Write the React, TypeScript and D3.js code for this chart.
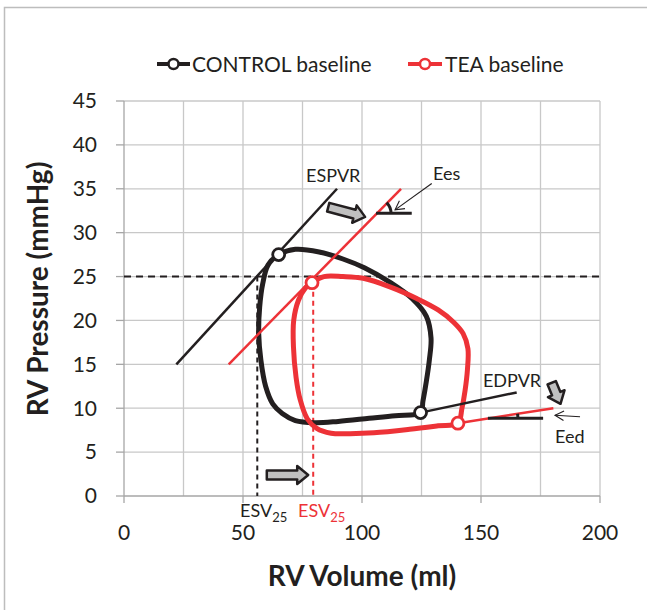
import React from "react";
import * as d3 from "d3";

// ---- data ----
const xTicks = [0, 50, 100, 150, 200];
const yTicks = [0, 5, 10, 15, 20, 25, 30, 35, 40, 45];
const xGrid = [25, 50, 75, 100, 125, 150, 175, 200];
const yGrid = [5, 10, 15, 20, 25, 30, 35, 40, 45];

const controlLoop: [number, number][] = [
  [65, 27.5], [72, 28.1], [82, 27.8], [92, 27.0], [101, 26.0], [112, 24.3], [121, 22.5],
  [127, 20.5], [129, 18], [128.3, 15.5], [127, 13], [125.6, 10.8], [124.6, 9.5],
  [114, 9.15], [103, 8.85], [90, 8.5], [80, 8.35], [72, 8.6], [66.5, 9.4], [62.5, 10.5],
  [59.5, 12.5], [57.5, 15.5], [56.6, 18.5], [57, 21.5], [58.3, 24.2], [60.5, 26.3],
];
const teaLoop: [number, number][] = [
  [79, 24.3], [84, 25.0], [92, 25.0], [100.5, 24.8], [112, 23.8], [123, 22.5], [132, 21.2],
  [138.5, 19.8], [142.5, 18.5], [144.5, 16.8], [144.3, 14.4], [143.3, 12], [142, 10],
  [140.3, 8.3], [132, 8.0], [120, 7.6], [105, 7.2], [95, 7.1], [87, 7.15], [81, 7.7],
  [77, 8.8], [74, 11], [72.3, 13.5], [71.2, 17], [71.3, 20], [73.3, 22.3], [76.1, 23.65],
];
const controlMarkers: [number, number][] = [[65, 27.5], [124.6, 9.5]];
const teaMarkers: [number, number][] = [[79, 24.3], [140.3, 8.3]];

const controlESPVR: [number, number][] = [[22, 15], [89.5, 35]];
const teaESPVR: [number, number][] = [[44, 15], [116.4, 35]];
const controlEDPVR: [number, number][] = [[124.6, 9.5], [165, 11.8]];
const teaEDPVR: [number, number][] = [[140.3, 8.3], [180.4, 10]];

const eesHoriz: [number, number][] = [[105.9, 32.2], [120.9, 32.2]];
const eedHoriz: [number, number][] = [[152.9, 8.85], [176.1, 8.85]];

const esvLevel = 25;
const controlESV = 56;
const teaESV = 79.5;

// block arrows: [tail, tip]
const blockArrows: [number, number][][] = [
  [[85.8, 32.9], [101.3, 31.8]],
  [[60, 2.39], [77.4, 2.39]],
  [[179.7, 12.9], [183.4, 10.5]],
];
// thin arrows: [tail, tip]
const thinArrows: [number, number][][] = [
  [[129.3, 35.6], [113.9, 32.6]],
  [[191.6, 9.03], [181.1, 9.2]],
];

const annotations = [
  { text: "ESPVR", v: 76.5, p: 35.8 },
  { text: "Ees", v: 129.8, p: 36 },
  { text: "EDPVR", v: 150.8, p: 12.4 },
  { text: "Eed", v: 181.1, p: 6.0 },
];

const legendItems = ["CONTROL baseline", "TEA baseline"];

// ---- style ----
const BLACK = "#231f20";
const RED = "#ed3237";
const GRID = "#c8c8c8";
const FONT = "Lato, 'Open Sans', sans-serif";

const W = 647;
const H = 610;

export default function App() {
  const x = d3.scaleLinear().domain([0, 200]).range([124, 600]);
  const y = d3.scaleLinear().domain([0, 45]).range([496, 101]);

  const loopGen = d3
    .line<[number, number]>()
    .x((d) => x(d[0]))
    .y((d) => y(d[1]))
    .curve(d3.curveCatmullRomClosed.alpha(0.5));
  const lineGen = d3
    .line<[number, number]>()
    .x((d) => x(d[0]))
    .y((d) => y(d[1]));

  const blockArrowPath = (a: [number, number], b: [number, number]) => {
    const x1 = x(a[0]), y1 = y(a[1]), x2 = x(b[0]), y2 = y(b[1]);
    const L = Math.hypot(x2 - x1, y2 - y1);
    const ang = Math.atan2(y2 - y1, x2 - x1);
    const bw = 4.5, hw = 9, hl = 11;
    const pts: [number, number][] = [
      [0, -bw], [L - hl, -bw], [L - hl, -hw], [L, 0], [L - hl, hw], [L - hl, bw], [0, bw],
    ];
    const c = Math.cos(ang), s = Math.sin(ang);
    return (
      "M" +
      pts.map(([u, w]) => `${x1 + u * c - w * s},${y1 + u * s + w * c}`).join("L") +
      "Z"
    );
  };

  const thinArrow = (a: [number, number], b: [number, number], i: number) => {
    const x1 = x(a[0]), y1 = y(a[1]), x2 = x(b[0]), y2 = y(b[1]);
    const ang = Math.atan2(y2 - y1, x2 - x1);
    const hl = 10, spread = 0.5;
    const p1 = [x2 - hl * Math.cos(ang - spread), y2 - hl * Math.sin(ang - spread)];
    const p2 = [x2 - hl * Math.cos(ang + spread), y2 - hl * Math.sin(ang + spread)];
    return (
      <g key={"ta" + i} stroke={BLACK} strokeWidth={1.1} fill="none">
        <line x1={x1} y1={y1} x2={x2} y2={y2} />
        <polyline points={`${p1[0]},${p1[1]} ${x2},${y2} ${p2[0]},${p2[1]}`} />
      </g>
    );
  };

  const angleArc = (
    horiz: [number, number][],
    line: [number, number][],
    r: number,
    key: string
  ) => {
    const cx = x(horiz[0][0]);
    const cy = y(horiz[0][1]);
    const ang = Math.atan2(y(line[1][1]) - y(line[0][1]), x(line[1][0]) - x(line[0][0]));
    const ex = cx + r * Math.cos(ang);
    const ey = cy + r * Math.sin(ang);
    return (
      <path
        key={key}
        d={`M${cx + r},${cy} A${r},${r} 0 0 0 ${ex},${ey}`}
        fill="none"
        stroke={BLACK}
        strokeWidth={3}
      />
    );
  };

  return (
    <svg
      width={W}
      height={H}
      style={{ position: "absolute", left: 0, top: 0, background: "#fff" }}
      fontFamily={FONT}
    >
      <rect x={0} y={0} width={W} height={H} fill="#fff" />
      {/* frame */}
      <polyline points={`4.5,${H} 4.5,7.5 ${W},7.5`} fill="none" stroke="#bdbdbd" strokeWidth={1.5} />

      {/* grid */}
      {xGrid.map((v) => (
        <line key={"gx" + v} x1={x(v)} x2={x(v)} y1={y(0)} y2={y(45)} stroke={GRID} strokeWidth={1.3} />
      ))}
      {yGrid.map((v) => (
        <line key={"gy" + v} x1={x(0)} x2={x(200)} y1={y(v)} y2={y(v)} stroke={GRID} strokeWidth={1.3} />
      ))}
      {/* axes */}
      <line x1={x(0)} x2={x(0)} y1={y(0)} y2={y(45)} stroke="#a6a6a6" strokeWidth={1.3} />
      <line x1={x(0)} x2={x(200)} y1={y(0)} y2={y(0)} stroke="#a6a6a6" strokeWidth={1.3} />
      {yTicks.map((v) => (
        <g key={"yt" + v}>
          <line x1={x(0) - 8} x2={x(0)} y1={y(v)} y2={y(v)} stroke="#a6a6a6" strokeWidth={1.3} />
          <text x={97} y={y(v)} dy="0.35em" textAnchor="end" fontSize={21} fill={BLACK}>
            {v}
          </text>
        </g>
      ))}
      {xTicks.map((v) => (
        <g key={"xt" + v}>
          <line x1={x(v)} x2={x(v)} y1={y(0)} y2={y(0) + 7} stroke="#a6a6a6" strokeWidth={1.3} />
          <text x={x(v)} y={540} textAnchor="middle" fontSize={21} fill={BLACK}>
            {v}
          </text>
        </g>
      ))}

      {/* axis titles */}
      <text x={362} y={586} textAnchor="middle" fontSize={28} fontWeight={700} fill={BLACK}>
        RV Volume (ml)
      </text>
      <text
        transform={`translate(48,289) rotate(-90)`}
        textAnchor="middle"
        fontSize={28}
        fontWeight={700}
        fill={BLACK}
      >
        RV Pressure (mmHg)
      </text>

      {/* dashed reference lines */}
      <line x1={x(0)} x2={x(200)} y1={y(esvLevel)} y2={y(esvLevel)} stroke={BLACK} strokeWidth={2} strokeDasharray="7,5" />
      <line x1={x(controlESV)} x2={x(controlESV)} y1={y(esvLevel)} y2={y(0)} stroke={BLACK} strokeWidth={2} strokeDasharray="5,4" />
      <line x1={x(teaESV)} x2={x(teaESV)} y1={y(teaMarkers[0][1])} y2={y(0)} stroke={RED} strokeWidth={2} strokeDasharray="5,4" />

      {/* loops */}
      <path d={loopGen(controlLoop) || ""} fill="none" stroke={BLACK} strokeWidth={5} />
      <path d={loopGen(teaLoop) || ""} fill="none" stroke={RED} strokeWidth={5} />

      {/* ESPVR / EDPVR */}
      <path d={lineGen(controlESPVR) || ""} stroke={BLACK} strokeWidth={2.5} fill="none" />
      <path d={lineGen(teaESPVR) || ""} stroke={RED} strokeWidth={2.5} fill="none" />
      <path d={lineGen(controlEDPVR) || ""} stroke={BLACK} strokeWidth={2.5} fill="none" />
      <path d={lineGen(teaEDPVR) || ""} stroke={RED} strokeWidth={2.5} fill="none" />

      {/* slope marks */}
      <path d={lineGen(eesHoriz) || ""} stroke={BLACK} strokeWidth={3} fill="none" />
      <path d={lineGen(eedHoriz) || ""} stroke={BLACK} strokeWidth={3} fill="none" />
      {angleArc(eesHoriz, teaESPVR, 15, "arcEes")}
      {angleArc(eedHoriz, teaEDPVR, 30, "arcEed")}

      {/* markers */}
      {controlMarkers.map((d, i) => (
        <circle key={"cm" + i} cx={x(d[0])} cy={y(d[1])} r={6} fill="#fff" stroke={BLACK} strokeWidth={2.8} />
      ))}
      {teaMarkers.map((d, i) => (
        <circle key={"tm" + i} cx={x(d[0])} cy={y(d[1])} r={6} fill="#fff" stroke={RED} strokeWidth={2.8} />
      ))}

      {/* block arrows */}
      {blockArrows.map((a, i) => (
        <path key={"ba" + i} d={blockArrowPath(a[0], a[1])} fill="#c0c0c0" stroke={BLACK} strokeWidth={2.5} strokeLinejoin="round" />
      ))}
      {thinArrows.map((a, i) => thinArrow(a[0], a[1], i))}

      {/* annotations */}
      {annotations.map((a) => (
        <text key={a.text} x={x(a.v)} y={y(a.p)} fontSize={18} fill={BLACK}>
          {a.text}
        </text>
      ))}
      <text x={240} y={517} fontSize={18} fill={BLACK}>
        ESV<tspan fontSize={13} dy={5}>25</tspan>
      </text>
      <text x={298} y={517} fontSize={18} fill={RED}>
        ESV<tspan fontSize={13} dy={5}>25</tspan>
      </text>

      {/* legend */}
      <g>
        <line x1={157} x2={190} y1={64} y2={64} stroke={BLACK} strokeWidth={4} />
        <circle cx={173.5} cy={64} r={5} fill="#fff" stroke={BLACK} strokeWidth={2.5} />
        <text x={192} y={71.5} fontSize={21} fill={BLACK}>
          {legendItems[0]}
        </text>
        <line x1={408} x2={442} y1={64} y2={64} stroke={RED} strokeWidth={4} />
        <circle cx={425} cy={64} r={5} fill="#fff" stroke={RED} strokeWidth={2.5} />
        <text x={445} y={71.5} fontSize={21} fill={BLACK}>
          {legendItems[1]}
        </text>
      </g>
    </svg>
  );
}
